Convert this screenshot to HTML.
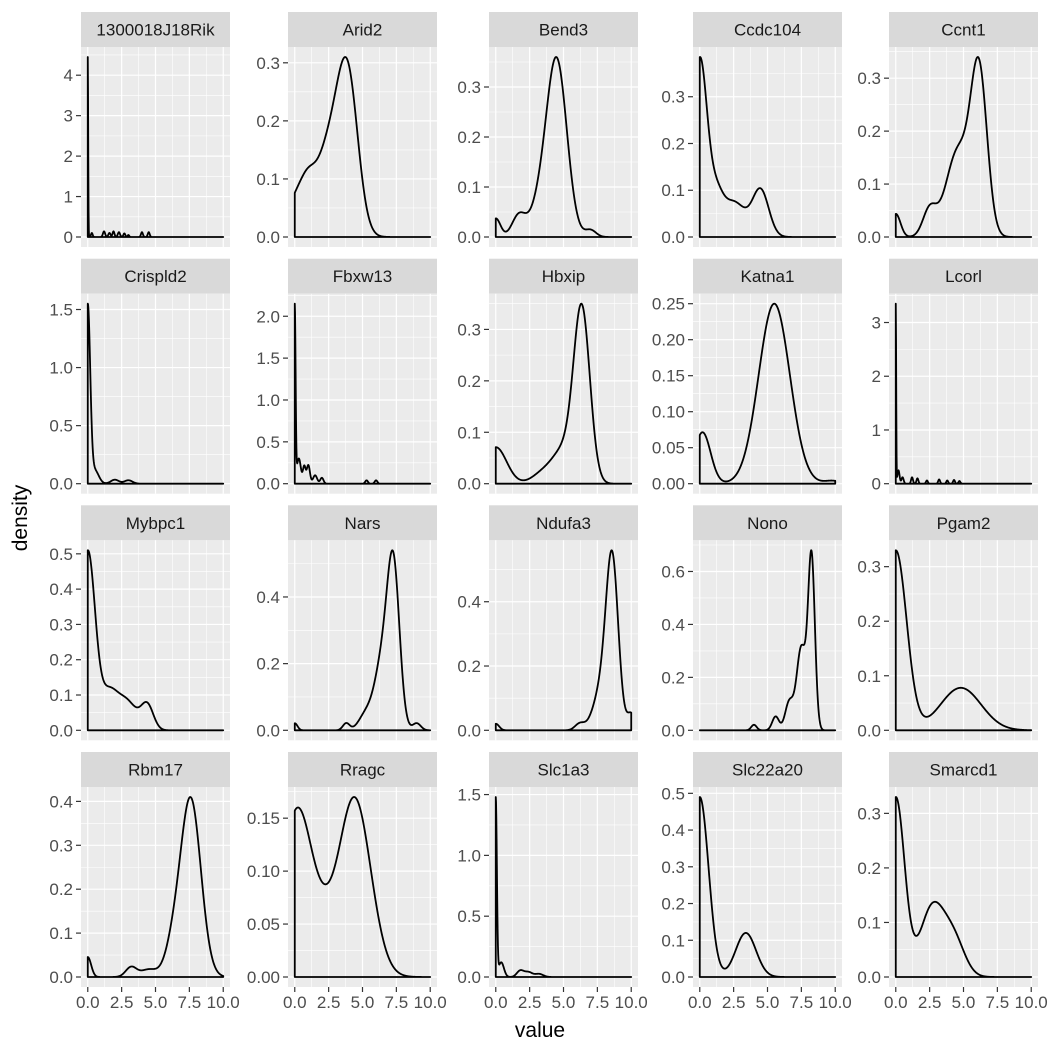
<!DOCTYPE html>
<html><head><meta charset="utf-8"><style>
body{margin:0;background:#fff}
svg{display:block;font-family:"Liberation Sans",sans-serif}
</style></head><body>
<svg id="s" width="1050" height="1050" xmlns="http://www.w3.org/2000/svg"></svg>
<script>
const colX=[81,288,489,693,889], rowY=[12,258.7,505.3,752];
const PW=149, SH=35, PH=200;
const P=[
["1300018J18Rik",4.45,[0,1,2,3,4],"0",[[0,0.03,4.45],[0.3,0.06,0.1],[1.2,0.08,0.14],[1.6,0.08,0.1],[1.9,0.07,0.14],[2.3,0.08,0.12],[2.7,0.07,0.09],[3.0,0.06,0.05],[4.0,0.07,0.12],[4.5,0.07,0.12]]],
["Arid2",0.31,[0,.1,.2,.3],"1",[[3.95,0.75,0.2],[2.6,1.0,0.13],[0.3,0.9,0.06],[1.0,0.5,0.02]]],
["Bend3",0.36,[0,.1,.2,.3],"1",[[4.5,0.75,0.33],[3.2,0.7,0.05],[0,0.35,0.035],[1.7,0.5,0.04],[7.0,0.4,0.013]]],
["Ccdc104",0.385,[0,.1,.2,.3],"1",[[0,0.55,0.33],[1.2,0.5,0.06],[2.5,0.9,0.065],[4.5,0.6,0.085]]],
["Ccnt1",0.34,[0,.1,.2,.3],"1",[[6.15,0.6,0.24],[4.6,0.9,0.13],[0,0.35,0.035],[2.5,0.5,0.04]]],
["Crispld2",1.55,[0,.5,1,1.5],"1",[[0,0.18,1.55],[0.5,0.3,0.12],[2.0,0.3,0.035],[3.0,0.3,0.03]]],
["Fbxw13",2.15,[0,.5,1,1.5,2],"1",[[0,0.06,2.1],[0.3,0.15,0.3],[0.7,0.1,0.2],[1.0,0.12,0.22],[1.5,0.15,0.1],[2.0,0.12,0.07],[5.3,0.1,0.04],[6.0,0.1,0.04]]],
["Hbxip",0.35,[0,.1,.2,.3],"1",[[6.35,0.6,0.33],[5.0,0.8,0.06],[0,0.8,0.07],[3.5,0.8,0.02]]],
["Katna1",0.25,[0,.05,.1,.15,.2,.25],"2",[[5.5,1.15,0.245],[0.2,0.6,0.07],[9.8,0.6,0.004]]],
["Lcorl",3.35,[0,1,2,3],"0",[[0,0.03,3.35],[0.2,0.08,0.25],[0.5,0.08,0.12],[1.2,0.07,0.12],[1.6,0.07,0.1],[2.3,0.07,0.06],[3.2,0.07,0.08],[3.8,0.07,0.06],[4.3,0.07,0.07],[4.7,0.07,0.05]]],
["Mybpc1",0.51,[0,.1,.2,.3,.4,.5],"1",[[0,0.55,0.45],[1.5,0.6,0.08],[2.8,0.8,0.075],[4.4,0.45,0.06]]],
["Nars",0.54,[0,.2,.4],"1",[[7.3,0.45,0.42],[6.5,0.6,0.2],[5.2,0.5,0.04],[3.8,0.25,0.02],[0,0.2,0.02],[9.0,0.3,0.02]]],
["Ndufa3",0.56,[0,.2,.4],"1",[[8.6,0.45,0.5],[7.8,0.6,0.12],[6.2,0.35,0.02],[0,0.25,0.02],[10,0.3,0.05]]],
["Nono",0.68,[0,.2,.4,.6],"1",[[8.25,0.25,0.62],[7.5,0.35,0.3],[6.6,0.3,0.1],[5.6,0.25,0.05],[4.0,0.2,0.02]]],
["Pgam2",0.33,[0,.1,.2,.3],"1",[[0,0.8,0.33],[4.8,1.5,0.078]]],
["Rbm17",0.41,[0,.1,.2,.3,.4],"1",[[7.6,0.75,0.4],[6.3,0.6,0.06],[0,0.25,0.045],[3.2,0.4,0.022],[4.5,0.6,0.017]]],
["Rragc",0.17,[0,.05,.1,.15],"2",[[0.2,1.15,0.15],[4.4,1.2,0.16],[2.2,0.8,0.02]]],
["Slc1a3",1.48,[0,.5,1,1.5],"1",[[0,0.08,1.45],[0.4,0.2,0.12],[1.8,0.25,0.05],[2.4,0.3,0.04],[3.2,0.3,0.025]]],
["Slc22a20",0.49,[0,.1,.2,.3,.4,.5],"1",[[0,0.65,0.49],[3.4,0.75,0.12]]],
["Smarcd1",0.33,[0,.1,.2,.3],"1",[[0,0.65,0.31],[2.7,0.9,0.12],[4.3,0.8,0.06]]]
];
const xmax={"1300018J18Rik":10,"Ndufa3":10};
let h='<rect width="1050" height="1050" fill="#fff"/>';
P.forEach((p,i)=>{
 const [name,ymax,ticks,dec,comps]=p;
 const c=i%5,r=Math.floor(i/5);
 const x0=colX[c], y0=rowY[r]+SH, yb=y0+PH;
 const X=v=>x0+(v+0.5)/11*PW;
 const top=y0+10, bot=yb-10;
 const Y=v=>bot-(v/ymax)*(bot-top);
 h+=`<rect x="${x0}" y="${rowY[r]}" width="${PW}" height="${SH}" fill="#d9d9d9"/>`;
 h+=`<text x="${x0+PW/2}" y="${rowY[r]+23.5}" font-size="17" fill="#1a1a1a" text-anchor="middle">${name}</text>`;
 h+=`<rect x="${x0}" y="${y0}" width="${PW}" height="${PH}" fill="#ebebeb"/>`;
 for(let k=0;k<4;k++){h+=`<line x1="${X(1.25+2.5*k)}" x2="${X(1.25+2.5*k)}" y1="${y0}" y2="${yb}" stroke="#fff" stroke-width="0.6"/>`;}
 const st=ticks[1]-ticks[0];
 for(let t=ticks[0]-st/2;t<=ymax*1.06;t+=st){ if(Y(t)>y0&&Y(t)<yb) h+=`<line x1="${x0}" x2="${x0+PW}" y1="${Y(t)}" y2="${Y(t)}" stroke="#fff" stroke-width="0.6"/>`;}
 ticks.forEach(t=>{h+=`<line x1="${x0}" x2="${x0+PW}" y1="${Y(t)}" y2="${Y(t)}" stroke="#fff" stroke-width="1.2"/>`;
  h+=`<line x1="${x0-5}" x2="${x0}" y1="${Y(t)}" y2="${Y(t)}" stroke="#333" stroke-width="1.2"/>`;
  h+=`<text x="${x0-8}" y="${Y(t)+6}" font-size="17" fill="#4d4d4d" text-anchor="end">${t.toFixed(+dec)}</text>`;});
 [0,2.5,5,7.5,10].forEach(t=>{h+=`<line x1="${X(t)}" x2="${X(t)}" y1="${y0}" y2="${yb}" stroke="#fff" stroke-width="1.2"/>`;
  if(r==3){h+=`<line x1="${X(t)}" x2="${X(t)}" y1="${yb}" y2="${yb+5}" stroke="#333" stroke-width="1.2"/>`;
  h+=`<text x="${X(t)}" y="${yb+21}" font-size="17" fill="#4d4d4d" text-anchor="middle">${t.toFixed(1)}</text>`;}});
 const f=v=>comps.reduce((s,[m,sd,hh])=>s+hh*Math.exp(-0.5*((v-m)/sd)**2),0);
 let raw=[],mx=0;const xe=xmax[name]||10;
 for(let v=0;v<=xe+1e-9;v+=0.02){const y=f(v);raw.push([v,y]);if(y>mx)mx=y;}
 const sc=ymax/mx;
 let d=`M${X(0).toFixed(2)},${Y(0).toFixed(2)}`;
 raw.forEach(([v,y])=>{d+=`L${X(v).toFixed(2)},${Y(y*sc).toFixed(2)}`;});
 d+=`L${X(xe).toFixed(2)},${Y(0).toFixed(2)}Z`;
 h+=`<path d="${d}" fill="none" stroke="#000" stroke-width="1.8" stroke-linejoin="round"/>`;
});
h+=`<text x="540" y="1037" font-size="21" fill="#000" text-anchor="middle">value</text>`;
h+=`<text transform="translate(27,518) rotate(-90)" font-size="21" fill="#000" text-anchor="middle">density</text>`;
document.getElementById('s').innerHTML=h;
</script>
</body></html>
